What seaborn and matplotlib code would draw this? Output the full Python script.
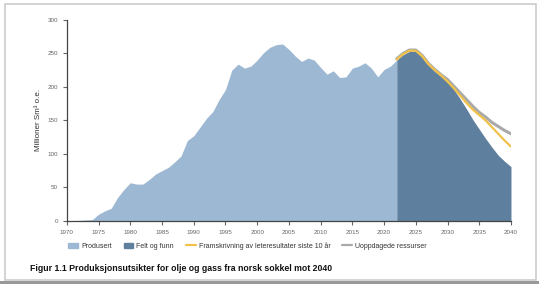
import numpy as np
import pandas as pd
import seaborn as sns
import matplotlib.pyplot as plt
from matplotlib.patches import Patch, Rectangle
from matplotlib.lines import Line2D

# Historical production (million Sm3 o.e.)
years_hist = list(range(1970, 2023))
produsert = [0, 0.5, 1, 1.5, 2, 10, 15, 19, 35, 47,
             57, 55, 55, 62, 70, 75, 80, 88, 97, 120,
             127, 140, 153, 163, 181, 196, 225, 234, 228, 231,
             240, 251, 259, 263, 264, 256, 246, 238, 243, 240,
             229, 219, 224, 214, 215, 228, 231, 236, 228, 215,
             226, 231, 240]

# Forecast 2022-2040
years_fc = list(range(2022, 2041))
felt_og_funn = [240, 248, 253, 253, 245, 233, 223, 216, 207, 196,
                182, 167, 151, 137, 123, 110, 98, 89, 81]
framskrivning = [241, 249, 254, 254, 246, 234, 225, 217, 208, 198,
                 187, 176, 166, 158, 150, 140, 130, 120, 111]
uoppdagede = [242, 250, 255, 255, 247, 235, 226, 218, 211, 201,
              191, 181, 171, 162, 155, 147, 141, 135, 130]

c_prod = '#9db8d3'
c_felt = '#5f7f9e'
c_fram = '#f0c24a'
c_uopp = '#a9a9a9'

df_fc = pd.DataFrame({'year': years_fc, 'fram': framskrivning, 'uopp': uoppdagede})

sns.set_style('white')
plt.rcParams['font.family'] = ['Liberation Sans', 'DejaVu Sans']

fig = plt.figure(figsize=(5.39, 2.84), dpi=100)
ax = fig.add_axes([0.124, 0.222, 0.824, 0.708])

ax.fill_between(years_hist, produsert, color=c_prod, lw=0)
ax.fill_between(years_fc, felt_og_funn, color=c_felt, lw=0)
sns.lineplot(data=df_fc, x='year', y='uopp', ax=ax, color=c_uopp, lw=2.2)
sns.lineplot(data=df_fc, x='year', y='fram', ax=ax, color=c_fram, lw=1.6)

ax.set_xlim(1970, 2040)
ax.set_ylim(0, 300)
ax.set_xticks(range(1970, 2041, 5))
ax.set_yticks(range(0, 301, 50))
ax.tick_params(labelsize=4.5, colors='#666666', length=3, width=0.8, direction='out',
               bottom=True, left=True)
for s in ['top', 'right']:
    ax.spines[s].set_visible(False)
for s in ['left', 'bottom']:
    ax.spines[s].set_color('#444444')
    ax.spines[s].set_linewidth(0.9)
ax.set_xlabel('')
ax.set_ylabel('Millioner Sm³ o.e.', fontsize=5.8, color='#333333', labelpad=4)

handles = [Patch(color=c_prod), Patch(color=c_felt),
           Line2D([], [], color=c_fram, lw=1.6), Line2D([], [], color=c_uopp, lw=1.6)]
labels = ['Produsert', 'Felt og funn', 'Framskrivning av leteresultater siste 10 år',
          'Uoppdagede ressurser']
fig.legend(handles, labels, loc='center left', bbox_to_anchor=(0.115, 0.134), ncol=4,
           frameon=False, fontsize=5.0, handlelength=1.4, handleheight=0.7,
           handletextpad=0.45, columnspacing=1.7, labelcolor='#333333')

fig.text(0.056, 0.056, 'Figur 1.1 Produksjonsutsikter for olje og gass fra norsk sokkel mot 2040',
         fontsize=6.3, fontweight='bold', color='#111111', va='center')

# page frame of the screenshot
fig.patches.append(Rectangle((0.01, 0.015), 0.985, 0.97, transform=fig.transFigure,
                             fill=False, edgecolor='#cccccc', lw=1.2))
fig.patches.append(Rectangle((0.0, 0.0), 1.0, 0.012, transform=fig.transFigure,
                             color='#999999', lw=0))

fig.savefig('out.png', dpi=100)
